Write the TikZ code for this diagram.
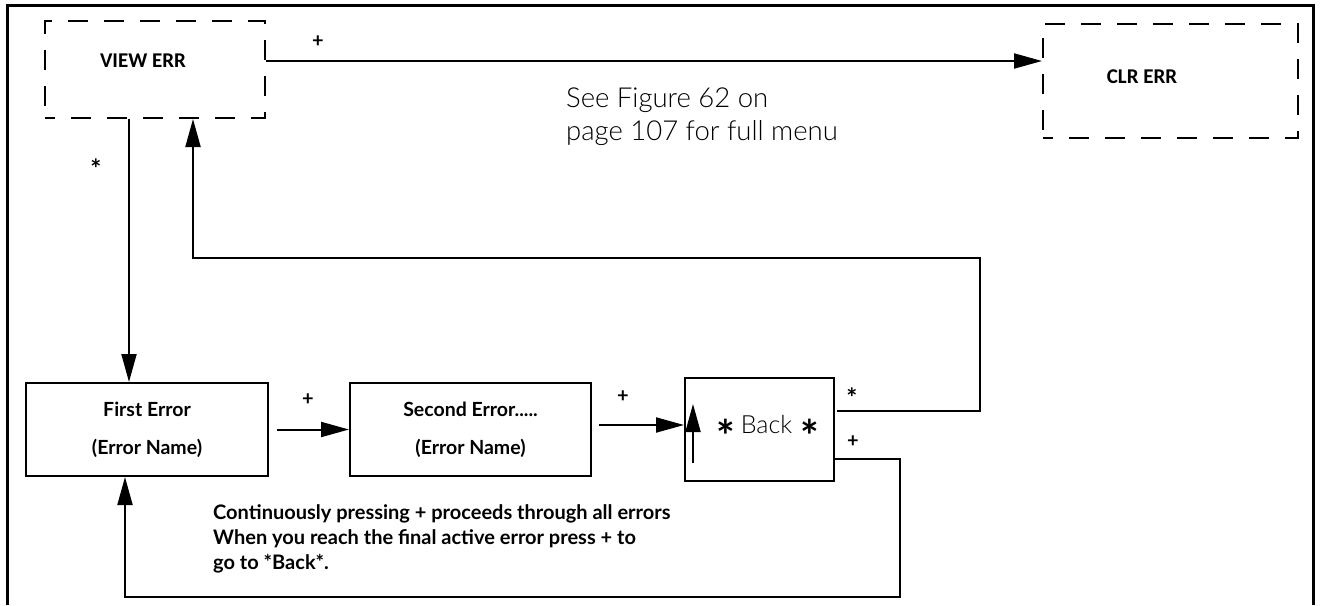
\documentclass[tikz,border=0pt]{standalone}
\usepackage{fontspec}
\setmainfont{Lato}
\newfontfamily\capsfont{Carlito}
\IfFontExistsTF{Lato Light}
  {\newfontfamily\thinfont{Lato Light}}
  {\IfFontExistsTF{DejaVu Sans ExtraLight}
    {\newfontfamily\thinfont{DejaVu Sans ExtraLight}}
    {\newfontfamily\thinfont{Lato}}}
\usetikzlibrary{arrows.meta,positioning}

\newcommand\backstar{\raisebox{-19pt}[0pt][0pt]{\normalfont\bfseries\fontsize{44}{44}\selectfont *}}

\begin{document}
\begin{tikzpicture}[x=1pt, y=-1pt, node distance=80pt,
    every node/.style={inner sep=0pt},
    menubox/.style={draw, line width=2pt, minimum height=93pt,
      font=\bfseries\fontsize{19.5}{38}\selectfont, align=center},
    dashbox/.style={draw, line width=2pt, dash pattern=on 20pt off 16pt,
      dash phase=10pt},
    boxname/.style={font=\capsfont\bfseries\fontsize{21}{21}\selectfont},
    link/.style={line width=2pt, -{Triangle[length=28pt,width=15pt]}},
    key/.style={font=\bfseries\fontsize{20}{20}\selectfont},
    keystar/.style={font=\bfseries\fontsize{26}{26}\selectfont}]
  \useasboundingbox (0,0) rectangle (1321,605);
  \draw[line width=3pt] (7,605) -- (7,5) -- (1313,5) -- (1313,605);

  % menu boxes
  \node[dashbox, minimum width=220pt, minimum height=97pt,
    label={[boxname, xshift=-12pt, yshift=8.5pt]center:VIEW ERR}]
    (view) at (155,69.5) {};
  \node[dashbox, minimum width=255pt, minimum height=114pt,
    label={[boxname, xshift=-28.5pt, yshift=4.5pt]center:CLR ERR}]
    (clr) at (1170.5,81) {};
  \node[menubox, minimum width=242pt] (first) at (147,429.5) {First Error\\(Error Name)};
  \node[menubox, minimum width=241pt, right=of first] (second) {Second Error.....\\(Error Name)};
  \node[menubox, minimum width=149pt, minimum height=103pt, right=92pt of second,
    label={[xshift=8pt, yshift=5pt, font=\thinfont\fontsize{25}{25}\selectfont]center:\backstar\hspace{6pt}Back\hspace{8pt}\backstar}]
    (back) {};

  \coordinate (loopA) at (980,258);
  \coordinate (loopB) at (900,597);

  % connectors
  \draw[link] ([yshift=8.5pt]view.east) -- ([yshift=8.5pt]view.east -| clr.west);
  \draw[link] ([xshift=-26pt]view.south) -- ([xshift=-26pt]view.south |- first.north);
  \draw[link] ([xshift=8pt]first.east) -- (second.west);
  \draw[link] ([xshift=7pt,yshift=4.5pt]second.east) -- ([yshift=4.5pt]second.east -| back.west);
  \draw[link] ([xshift=2pt,yshift=18.5pt]back.east) -| (loopA) -| ([xshift=38pt]view.south);
  \draw[link] ([yshift=-29.5pt]back.east) -| (loopB) -| ([xshift=-22pt]first.south);
  \draw[link] ([xshift=9pt,yshift=-33.5pt]back.west) -- ([xshift=9pt,yshift=25.5pt]back.west);

  % key labels
  \node[key] (plusA) at (318,42) {+};
  \node[keystar] (starA) at (96,169) {*};
  \node[key] (plusB) at (308,400) {+};
  \node[key] (plusC) at (623,397) {+};
  \node[keystar] (starB) at (852,398) {*};
  \node[key] (plusD) at (853,442) {+};

  % notes
  \node[anchor=north west, align=left, font=\thinfont\fontsize{27.5}{33}\selectfont]
    (seefig) at (566,88) {See Figure 62 on\\page 107 for full menu};
  \node[anchor=north west, align=left, font=\bfseries\fontsize{20}{25}\selectfont]
    (hint) at (213,504) {Continuously pressing + proceeds through all errors\\When you reach the final active error press + to\\go to *Back*.};
\end{tikzpicture}
\end{document}
